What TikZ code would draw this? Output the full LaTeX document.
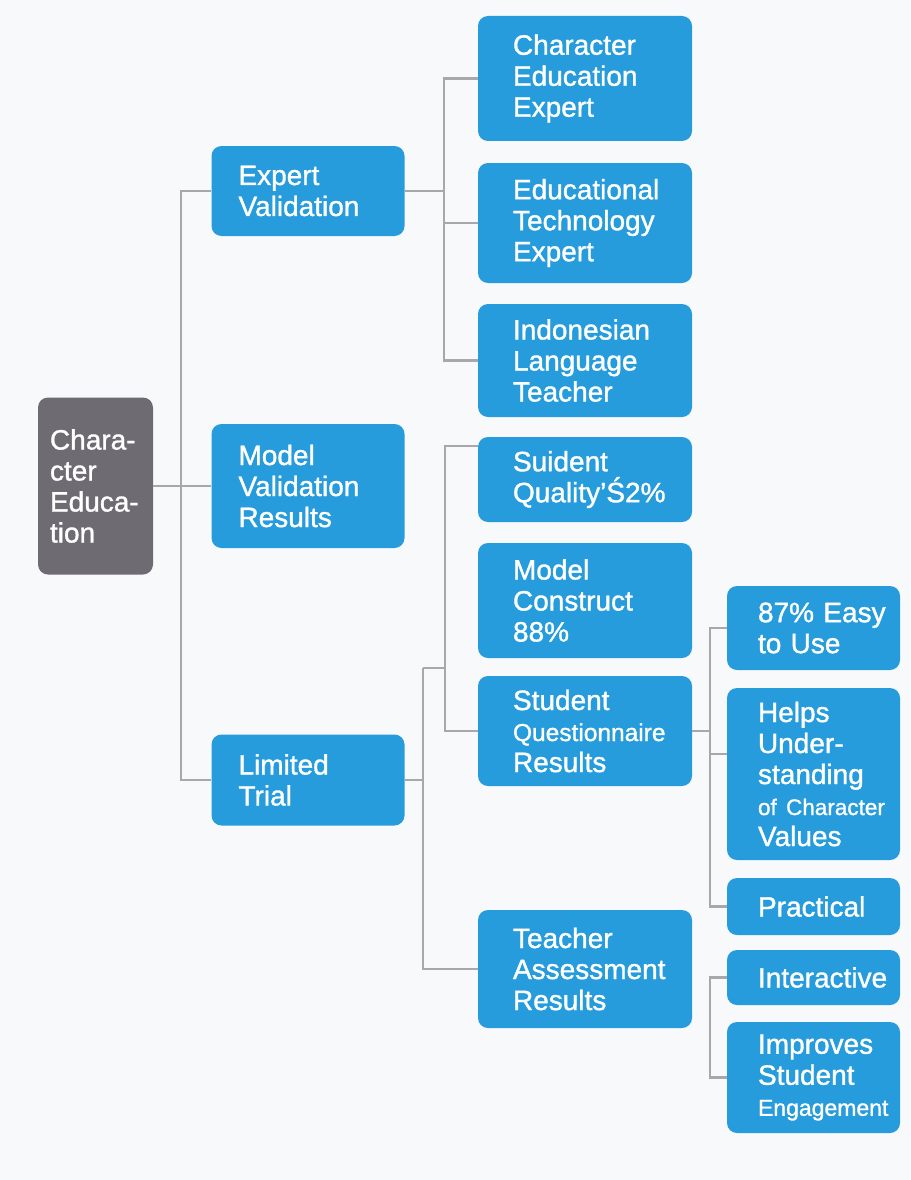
\documentclass[tikz,border=0pt]{standalone}
\usepackage{fontspec}
\setmainfont{Liberation Sans}
\newfontfamily\boxfont{Liberation Sans}[FakeBold=1.2]
\hfuzz=30pt
\definecolor{boxblue}{RGB}{39,156,221}
\definecolor{rootgray}{RGB}{110,108,114}
\definecolor{linegray}{RGB}{168,168,170}
\definecolor{pagebg}{RGB}{248,249,250}
\newcommand{\subtxt}[2][23]{\mbox{\fontsize{#1}{26}\selectfont #2}}

\tikzset{
	box/.style={rectangle, rounded corners=10pt, fill=boxblue, text=white, align=left, inner ysep=0pt, font=\boxfont\fontsize{28}{31}\selectfont},
	rootbox/.style={box, fill=rootgray, text width=91pt, inner xsep=12pt},
	lvlone/.style={box, text width=139pt, inner xsep=27pt},
	lvltwo/.style={box, text width=144pt, inner xsep=35pt},
	lvlthree/.style={box, text width=111pt, inner xsep=31pt},
	link/.style={draw=linegray, line width=2.6pt}
}

\begin{document}
\begin{tikzpicture}[x=1pt, y=-1pt]
	\fill[pagebg] (0,0) rectangle (910,1180);
	\useasboundingbox (0,0) rectangle (910,1180);
	
	\node[rootbox, minimum height=177pt] (root) at (95.5,486) {Chara-\\cter\\Educa-\\tion};
	
	\node[lvlone, minimum height=90pt] (ev) at (308,191) {Expert\\Validation};
	\node[lvlone, minimum height=124pt] (mv) at (308,486) {Model\\Validation\\Results};
	\node[lvlone, minimum height=91pt] (lt) at (308,780) {Limited\\Trial};
	
	\node[lvltwo, minimum height=125pt] (cee) at (585,78.5) {Character\\Education\\Expert};
	\node[lvltwo, minimum height=120pt] (ete) at (585,223) {Educational\\Technology\\Expert};
	\node[lvltwo, minimum height=113pt] (ilt) at (585,360.5) {Indonesian\\Language\\Teacher};
	\node[lvltwo, minimum height=85pt] (sq) at (585,479.5) {Suident\\\mbox{Quality’Ś2\%}};
	\node[lvltwo, minimum height=115pt] (mc) at (585,600.5) {Model\\Construct\\88\%};
	\node[lvltwo, minimum height=110pt] (sqr) at (585,731) {Student\\\subtxt[24.5]{Questionnaire}\\Results};
	\node[lvltwo, minimum height=118pt] (tar) at (585,969) {Teacher\\Assessment\\Results};
	
	\node[lvlthree, minimum height=84pt] (easy) at (813.5,628) {\mbox{87\% Easy}\\to Use};
	\node[lvlthree, minimum height=172pt] (helps) at (813.5,774) {Helps\\Under-\\standing\\\subtxt[22.5]{of Character}\\Values};
	\node[lvlthree, minimum height=57pt] (prac) at (813.5,906.5) {Practical};
	\node[lvlthree, minimum height=55pt] (inter) at (813.5,977.5) {Interactive};
	\node[lvlthree, minimum height=111pt] (impr) at (813.5,1077.5) {Improves\\Student\\\subtxt{Engagement}};
	
	% spines
	\coordinate (sp1) at (181,0);
	\coordinate (sp2) at (444,0);
	\coordinate (t1) at (423,668);
	\coordinate (t2) at (445,668);
	\coordinate (sp3) at (710,0);
	
	\draw[link] (root.east) -- (mv.west);
	\draw[link] (ev.west) -| (sp1 |- lt.west) -- (lt.west);
	
	\draw[link] (ev.east) -- (ev.east -| sp2);
	\draw[link] (cee.west) -| (sp2 |- ilt.west) -- (ilt.west);
	\draw[link] (ete.west) -- (ete.west -| sp2);
	
	\draw[link] (lt.east) -- (lt.east -| t1);
	\draw[link] (t1) |- (tar.west);
	\draw[link] (t1) -- (t2);
	\draw[link] ([yshift=-9pt]sq.north west) -| (t2) |- (sqr.west);
	
	\draw[link] (sqr.east) -- (sqr.east -| sp3);
	\draw[link] (easy.west) -| (sp3 |- prac.west) -- (prac.west);
	\draw[link] ([yshift=20pt]helps.west) -- ([yshift=20pt]helps.west -| sp3);
	\draw[link] (inter.west) -| (sp3 |- impr.west) -- (impr.west);
\end{tikzpicture}
\end{document}
